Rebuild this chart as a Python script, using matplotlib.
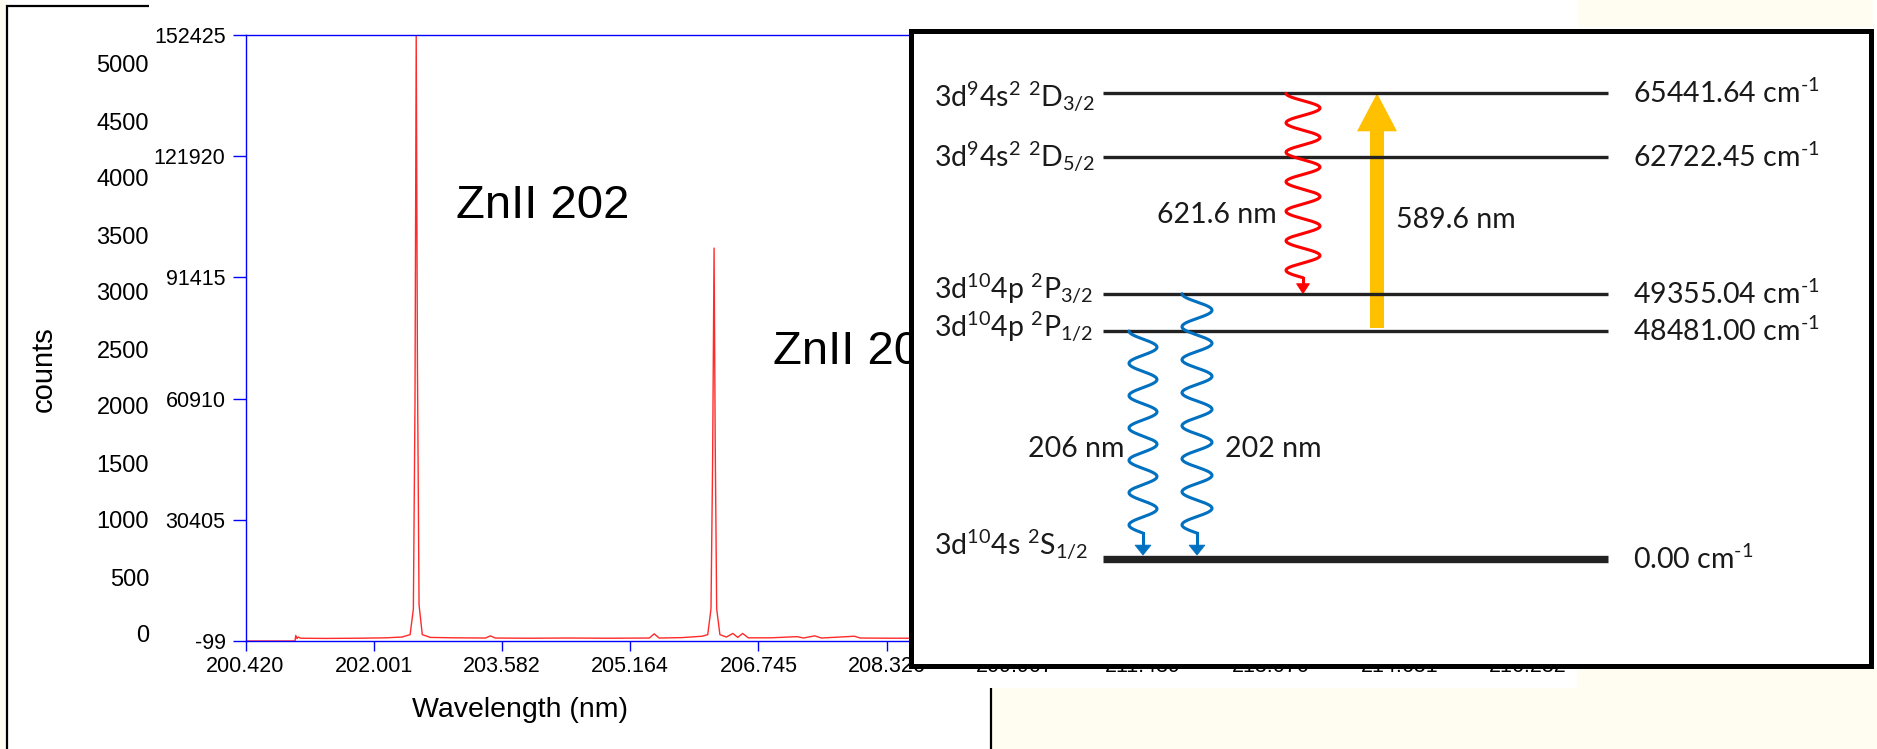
import numpy as np
import matplotlib
matplotlib.use("Agg")
import matplotlib.pyplot as plt
from matplotlib.patches import Rectangle, Polygon, FancyArrow

plt.rcParams['font.family'] = ['Liberation Sans', 'DejaVu Sans']
plt.rcParams['mathtext.fontset'] = 'custom'
plt.rcParams['mathtext.rm'] = 'Lato'
plt.rcParams['mathtext.it'] = 'Lato:italic'

# spectrum (wavelength in nm, detector counts)
wavelength_nm = [200.420, 201.030, 201.040, 201.055, 201.070, 201.100, 201.400, 201.800,
                 202.150, 202.350, 202.450, 202.490, 202.510, 202.525, 202.540, 202.560,
                 202.600, 202.700, 203.000, 203.380, 203.440, 203.500, 203.900, 204.400,
                 204.900, 205.400, 205.460, 205.520, 205.800, 206.050, 206.120, 206.160,
                 206.180, 206.198, 206.212, 206.230, 206.270, 206.350, 206.430, 206.490,
                 206.550, 206.620, 206.900, 207.220, 207.300, 207.440, 207.520, 207.930,
                 208.000, 208.400, 209.000]
counts = [-99, -99, 1300, 500, 900, 600, 550, 600,
          700, 900, 1500, 8000, 60000, 152425, 70000, 9000,
          1500, 800, 700, 650, 1200, 650, 600, 650,
          600, 650, 1700, 650, 750, 1100, 1500, 8000,
          45000, 98800, 50000, 8000, 1500, 900, 1800, 800,
          1800, 700, 700, 1000, 650, 1200, 650, 1100,
          650, 600, 600]

x_ticks = ['200.420', '202.001', '203.582', '205.164', '206.745', '208.326',
           '209.907', '211.489', '213.070', '214.651', '216.232']
y_ticks = ['-99', '30405', '60910', '91415', '121920', '152425']
count_ticks = [0, 500, 1000, 1500, 2000, 2500, 3000, 3500, 4000, 4500, 5000]
line_labels = ['ZnII 202', 'ZnII 206']

# Zn II level scheme
level_terms = [r'3d$^{9}$4s$^{2}$ $^{2}$D$_{3/2}$', r'3d$^{9}$4s$^{2}$ $^{2}$D$_{5/2}$',
               r'3d$^{10}$4p $^{2}$P$_{3/2}$', r'3d$^{10}$4p $^{2}$P$_{1/2}$',
               r'3d$^{10}$4s $^{2}$S$_{1/2}$']
level_energies = [65441.64, 62722.45, 49355.04, 48481.00, 0.00]
transition_labels = ['621.6 nm', '589.6 nm', '206 nm', '202 nm']
transition_levels = [(0, 2), (3, 0), (3, 4), (2, 4)]   # (from, to)

# schematic layout of the level diagram (pixels)
level_y = [93.3, 156.7, 293.7, 331.0, 558.7]
term_baseline = [106, 167, 298, 337, 555]
level_lw = [2.4, 2.4, 2.4, 2.4, 5.3]

W, H = 1877, 749


def frac(x0, y0, x1, y1):
    return [x0 / W, 1 - y1 / H, (x1 - x0) / W, (y1 - y0) / H]


fig = plt.figure(figsize=(W / 100, H / 100), dpi=100)
fig.patch.set_facecolor('white')

# slide background
canvas = fig.add_axes([0, 0, 1, 1], zorder=0)
canvas.set_xlim(0, W)
canvas.set_ylim(H, 0)
canvas.axis('off')
cream = '#fffdf2'
for x0, y0, w, h in [(0, 0, 7, H), (1578, 0, 295, 27), (991, 688, 886, 61), (1577, 668, 300, 20)]:
    canvas.add_patch(Rectangle((x0, y0), w, h, facecolor=cream, edgecolor='none'))
canvas.add_patch(Rectangle((7.3, 5.7), 983.7, 800, facecolor='white', edgecolor='black', lw=1.6))
canvas.add_patch(Rectangle((149, 0), 1428, 688, facecolor='white', edgecolor='none'))

# spectrum
ax = fig.add_axes(frac(245.5, 35, 1656, 641), zorder=1)
ax.plot(wavelength_nm, counts, color='#ff2a2a', lw=1.0)
ax.set_xlim(200.420, 217.813)
ax.set_ylim(-99, 152425)
ax.set_xticks([float(t) for t in x_ticks])
ax.set_xticklabels(x_ticks)
ax.set_yticks([float(t) for t in y_ticks])
ax.set_yticklabels(y_ticks)
ax.tick_params(axis='y', length=9.4, width=1, color='blue', pad=5, labelsize=15.5)
ax.tick_params(axis='x', length=7.5, width=1, color='blue', pad=3, labelsize=15.5)
for side in ['left', 'top', 'bottom']:
    ax.spines[side].set_color('blue')
    ax.spines[side].set_linewidth(1.0)
ax.spines['right'].set_visible(False)
ax.text(456, 218, line_labels[0], transform=canvas.transData, fontsize=34)
ax.text(773, 364, line_labels[1], transform=canvas.transData, fontsize=34)

# counts scale on the left
axc = fig.add_axes(frac(149, 64, 150, 634), zorder=1)
axc.set_ylim(0, 5000)
axc.set_yticks(count_ticks)
axc.set_xticks([])
axc.tick_params(axis='y', length=0, pad=0, labelsize=17)
axc.patch.set_alpha(0)
for s in axc.spines.values():
    s.set_visible(False)

fig.text(44 / W, 1 - 369 / H, 'counts', rotation=90, ha='center', va='center', fontsize=21)
fig.text(520 / W, 1 - 710 / H, 'Wavelength (nm)', ha='center', va='center', fontsize=20.5)

# energy level diagram
axb = fig.add_axes(frac(910.5, 30.5, 1870.5, 665.5), zorder=5)
axb.set_xlim(910.5, 1870.5)
axb.set_ylim(665.5, 30.5)
axb.set_xticks([])
axb.set_yticks([])
for s in axb.spines.values():
    s.set_linewidth(3.6)
    s.set_color('black')

dfont = dict(family=['Lato', 'DejaVu Sans'], fontsize=20.5, color='#1a1a1a')
for term, e, y, yb, lw in zip(level_terms, level_energies, level_y, term_baseline, level_lw):
    axb.plot([1102.5, 1608], [y, y], color='#222222', lw=lw, solid_capstyle='butt')
    axb.text(934, yb, term, ha='left', va='baseline', **dfont)
    axb.text(1633, y + 10, f'{e:.2f} cm' + r'$^{\text{-1}}$', ha='left', va='baseline', **dfont)


def wavy_arrow(x, y_top, y_bot, n_waves, amp, color, head_w, head_l, tail, lw=2.2):
    y_end = y_bot - head_l - tail
    t = np.linspace(0, n_waves, 500)
    yy = y_top + (y_end - y_top) * t / n_waves
    xx = x - amp * np.cos(2 * np.pi * t)
    axb.plot(xx, yy, color=color, lw=lw, solid_capstyle='round')
    axb.plot([x, x], [y_end, y_bot - head_l + 1], color=color, lw=lw)
    axb.add_patch(Polygon([[x - head_w / 2, y_bot - head_l], [x + head_w / 2, y_bot - head_l],
                           [x, y_bot]], closed=True, facecolor=color, edgecolor=color, lw=0.5))


# 621.6 nm emission (red)
up, lo = transition_levels[0]
wavy_arrow(1303, level_y[up], level_y[lo], 6.25, 17, '#ff0000', 13, 10, 6)
axb.text(1277, 223, transition_labels[0], ha='right', va='baseline', **dfont)

# 589.6 nm excitation (yellow)
lo, up = transition_levels[1]
axb.add_patch(FancyArrow(1377, level_y[lo] - 3, 0, level_y[up] - level_y[lo] + 3, width=14,
                         head_width=40, head_length=38, length_includes_head=True,
                         facecolor='#ffc000', edgecolor='none'))
axb.text(1396, 228, transition_labels[1], ha='left', va='baseline', **dfont)

# 206 nm and 202 nm emission (blue)
blue = '#0070c0'
up, lo = transition_levels[2]
wavy_arrow(1143, level_y[up], level_y[lo] - 3.6, 6.25, 14, blue, 16, 10, 12)
axb.text(1125, 457, transition_labels[2], ha='right', va='baseline', **dfont)
up, lo = transition_levels[3]
wavy_arrow(1197, level_y[up], level_y[lo] - 3.6, 7.25, 15, blue, 16, 10, 12)
axb.text(1225, 457, transition_labels[3], ha='left', va='baseline', **dfont)

fig.savefig('out.png', dpi=100, facecolor=fig.get_facecolor())
